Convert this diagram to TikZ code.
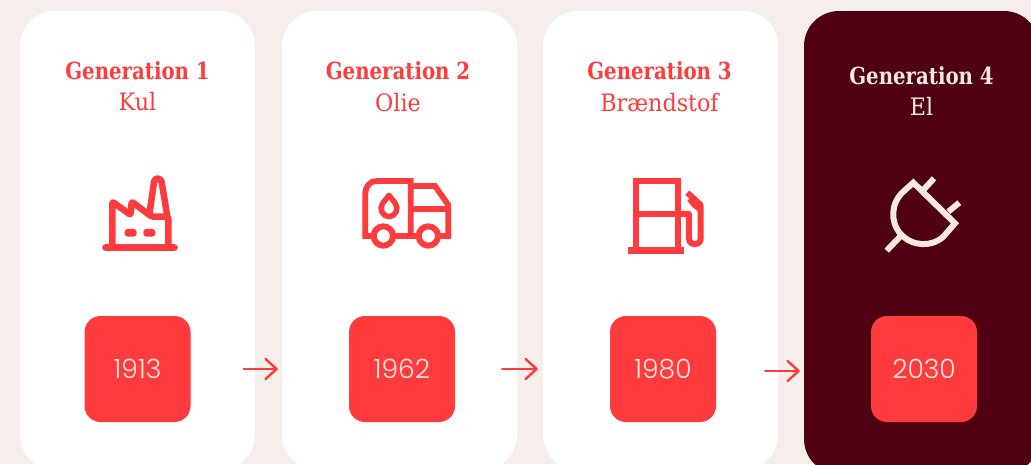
\documentclass[tikz,border=0pt]{standalone}
\usepackage{fontspec}
\usetikzlibrary{arrows.meta}
\setmainfont{DejaVu Serif Condensed}[FakeStretch=0.93]
\newfontfamily\subfont{DejaVu Serif Condensed}[FakeStretch=1.03]
\newfontfamily\numfont{Poppins Light}
\definecolor{bgc}{HTML}{F5EEEB}
\definecolor{redc}{HTML}{FF3B3D}
\definecolor{darkc}{HTML}{4F0012}
\definecolor{creamc}{HTML}{F8E8E2}
\tikzset{
  card/.style={fill=white,rounded corners=35pt},
  darkcard/.style={fill=darkc,rounded corners=35pt},
  yearbox/.style={fill=redc,rounded corners=16pt,minimum width=106pt,minimum height=106pt,inner sep=0pt,text=creamc,font=\numfont\fontsize{26.5}{27}\selectfont},
  head/.style={font=\fontsize{23.6}{24}\selectfont\bfseries,inner sep=0pt,anchor=center},
  sub/.style={font=\subfont\fontsize{24}{24}\selectfont,inner sep=0pt,anchor=center},
  conn/.style={draw=redc,line width=2.4pt,line cap=round,line join=round,-{Straight Barb[length=11pt,width=20pt,line width=2.4pt,round]}},
  redico/.style={draw=redc,line join=round,fill=none},
  sharpico/.style={draw=redc,line join=miter,fill=none},
  creamico/.style={draw=creamc,line width=6pt,line join=miter,fill=none},
}
\begin{document}
\begin{tikzpicture}[x=1pt,y=-1pt]
\useasboundingbox (0,0) rectangle (1031,464);
\clip (0,0) rectangle (1031,464);
\fill[bgc] (0,0) rectangle (1031,464);
\fill[card] (20,11) rectangle (255,470);
\fill[card] (282,11) rectangle (517,470);
\fill[card] (543,11) rectangle (778,470);
\fill[darkcard] (804,11) rectangle (1039,474);
% titles
\node[head,text=redc] (g1) at (137.5,71) {Generation 1};
\node[sub,text=redc] (s1) at (137.5,101.5) {Kul};
\node[head,text=redc] (g2) at (398,71) {Generation 2};
\node[sub,text=redc] (s2) at (398,102.5) {Olie};
\node[head,text=redc] (g3) at (659.5,71) {Generation 3};
\node[sub,text=redc] (s3) at (659.5,102.5) {Brændstof};
\node[head,text=creamc] (g4) at (921.5,76) {Generation 4};
\node[sub,text=creamc] (s4) at (921.5,106.5) {El};
% years
\node[yearbox] (y1) at (137.5,369) {1913};
\node[yearbox] (y2) at (402,369) {1962};
\node[yearbox] (y3) at (663,369) {1980};
\node[yearbox] (y4) at (924,369) {2030};
% arrows
\draw[conn,shorten <=53pt,shorten >=71pt] (y1.east) -- (y2.west);
\draw[conn,shorten <=47pt,shorten >=72pt] (y2.east) -- (y3.west);
\draw[conn,shorten <=49pt,shorten >=71pt] ([yshift=-2pt]y3.east) -- ([yshift=-2pt]y4.west);
% factory icon
\begin{scope}[shift={(80,160)},x=0.3333pt,y=-0.3333pt]
\draw[redico,line width=7pt,line cap=round] (77,263) -- (283,263);
\draw[redico,line width=6.5pt,rounded corners=2pt] (97,263) -- (97,125) -- (152,165) -- (155,125) -- (215,170) -- (265,170) -- (265,263);
\draw[redico,line width=6.5pt] (208,165) -- (222,66) .. controls (224,52) and (242,52) .. (245,66) -- (262,170);
\fill[redc,rounded corners=3pt] (134,207) rectangle (170,230);
\fill[redc,rounded corners=3pt] (190,207) rectangle (226,230);
\end{scope}
% truck icon
\begin{scope}[shift={(340,160)},x=0.3333pt,y=-0.3333pt]
\draw[sharpico,line width=5.8pt] (105,228) -- (76,228) -- (76,100) .. controls (76,80) and (90,63) .. (110,63) -- (212,63) -- (212,228);
\draw[sharpico,line width=5.8pt] (212,78) -- (285,78) -- (325,135) -- (325,228) -- (294,228);
\draw[sharpico,line width=5.8pt] (212,147) -- (325,147);
\draw[sharpico,line width=5.8pt] (158,228) -- (237,228);
\draw[redico,line width=6pt] (130,199) .. controls (146,199) and (159,212) .. (159,228) .. controls (159,244) and (146,257) .. (130,257) .. controls (114,257) and (101,244) .. (101,228) .. controls (101,212) and (114,199) .. (130,199) -- cycle;
\draw[redico,line width=6pt] (265,199) .. controls (281,199) and (294,212) .. (294,228) .. controls (294,244) and (281,257) .. (265,257) .. controls (249,257) and (236,244) .. (236,228) .. controls (236,212) and (249,199) .. (265,199) -- cycle;
\draw[redico,line width=5.5pt] (147,106) -- (128,130) .. controls (116,146) and (128,170) .. (147,170) .. controls (166,170) and (178,146) .. (166,130) -- cycle;
\end{scope}
% pump icon
\begin{scope}[shift={(610,160)},x=0.3333pt,y=-0.3333pt]
\draw[sharpico,line width=6pt] (77,270) -- (77,63) -- (203,63) -- (203,270);
\draw[sharpico,line width=6pt] (77,162) -- (203,162);
\draw[sharpico,line width=6.5pt] (55,271) -- (222,271);
\draw[redico,line width=6pt] (203,162) -- (237,162) -- (237,235) .. controls (237,259) and (272,259) .. (272,235) -- (272,135) -- (232,98);
\fill[redc] (248,110) -- (232,122) -- (248,142) -- (266,155) -- (278,140) -- cycle;
\end{scope}
% plug icon
\begin{scope}[shift={(870,160)},x=0.3333pt,y=-0.3333pt]
\draw[creamico] (130,68) -- (255,190) -- (220,230) .. controls (183,263) and (126,259) .. (92,222) .. controls (59,185) and (63,128) .. (100,95) -- cycle;
\draw[creamico] (158,92) -- (192,55);
\draw[creamico] (235,155) -- (268,128);
\draw[creamico] (92,228) -- (50,272);
\end{scope}
\end{tikzpicture}
\end{document}
